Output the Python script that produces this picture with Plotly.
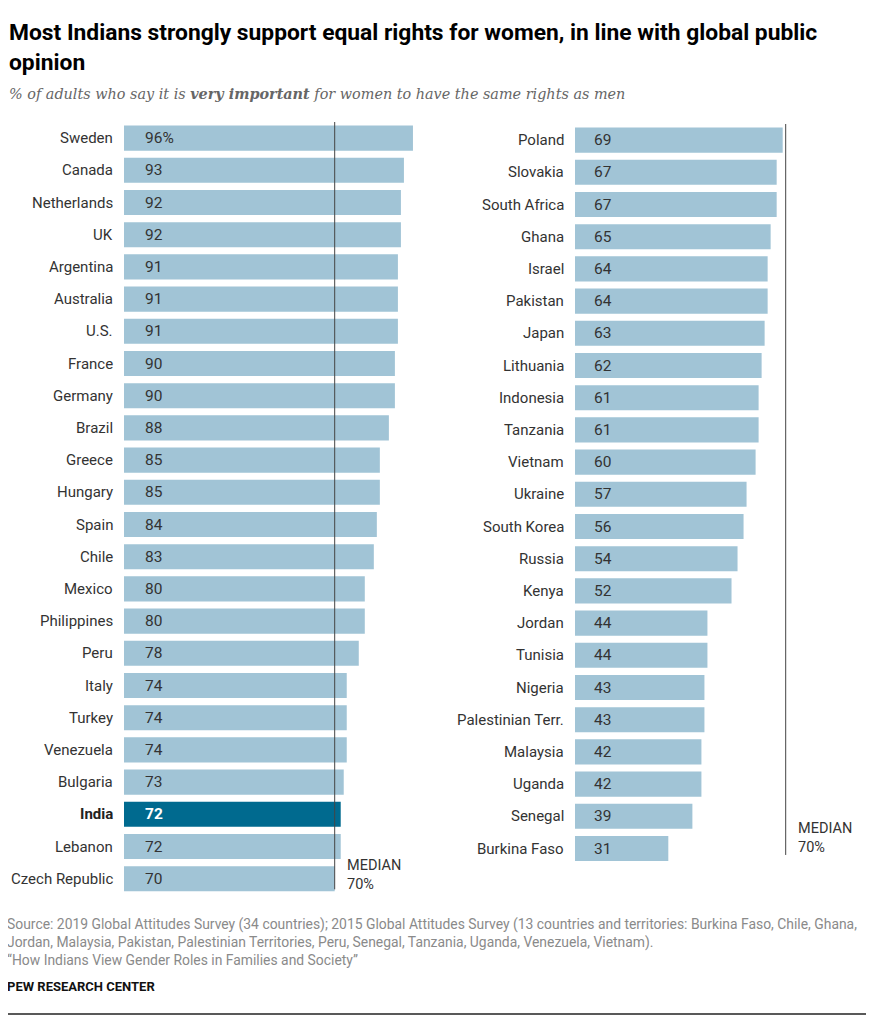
import plotly.graph_objects as go

# data
left_countries = ["Sweden", "Canada", "Netherlands", "UK", "Argentina", "Australia", "U.S.",
                  "France", "Germany", "Brazil", "Greece", "Hungary", "Spain", "Chile", "Mexico",
                  "Philippines", "Peru", "Italy", "Turkey", "Venezuela", "Bulgaria", "India",
                  "Lebanon", "Czech Republic"]
left_values = [96, 93, 92, 92, 91, 91, 91, 90, 90, 88, 85, 85, 84, 83, 80, 80, 78, 74, 74, 74,
               73, 72, 72, 70]

right_countries = ["Poland", "Slovakia", "South Africa", "Ghana", "Israel", "Pakistan", "Japan",
                   "Lithuania", "Indonesia", "Tanzania", "Vietnam", "Ukraine", "South Korea",
                   "Russia", "Kenya", "Jordan", "Tunisia", "Nigeria", "Palestinian Terr.",
                   "Malaysia", "Uganda", "Senegal", "Burkina Faso"]
right_values = [69, 67, 67, 65, 64, 64, 63, 62, 61, 61, 60, 57, 56, 54, 52, 44, 44, 43, 43, 42,
                42, 39, 31]

median = 70
highlight = "India"

OFF = 8  # page body margin
W, H = 887 - OFF, 1023 - OFF
LIGHT = "#a1c4d6"
DARK = "#006a8f"
FONT = "Roboto"
PX = 3.01  # pixels per percentage point

def px_x(p):
    return (p - OFF) / W

def px_y(p):
    return 1 - (p - OFF) / H

fig = go.Figure()

# pixel layout of the two panels (reference coordinates)
pitch = 32.2
nrows = len(left_countries)
lx0, lx1 = 124, 440
rx0, rx1 = 575, 880

# countries, values, axes, x pixels, value-label offset, top pixel, median line end, median label offset
panels = [
    (left_countries, left_values, "x", "y", lx0, lx1, 19, 122, 0.33, 0.5),
    (right_countries, right_values, "x2", "y2", rx0, rx1, 17, 124, 0.2, 0.3),
]

annotations = []
shapes = []
domains = []
for countries, values, xa, ya, x0, x1, lab_off, top_px, line_end, med_off in panels:
    domains.append([px_y(top_px + pitch * nrows), px_y(top_px)])
    idx = list(range(len(countries)))
    colors = [DARK if c == highlight else LIGHT for c in countries]
    fig.add_trace(go.Bar(
        x=values, y=idx, orientation="h", xaxis=xa, yaxis=ya,
        marker=dict(color=colors, line=dict(width=0)), width=0.78,
        hoverinfo="skip", showlegend=False,
    ))
    for i, (c, v) in enumerate(zip(countries, values)):
        bold = c == highlight
        txt = f"{v}%" if i == 0 and xa == "x" else str(v)
        annotations.append(dict(
            x=lab_off / PX, y=i, xref=xa, yref=ya, xanchor="left", yanchor="middle",
            text=f"<b>{txt}</b>" if bold else txt, showarrow=False,
            font=dict(family=FONT, size=15.5, color="white" if bold else "#333333"),
        ))
        annotations.append(dict(
            x=px_x(x0 - 9.5), y=i, xref="paper", yref=ya, xanchor="right", yanchor="middle",
            text=f"<b>{c}</b>" if bold else c, showarrow=False,
            font=dict(family=FONT, size=15, color="#222222" if bold else "#333333"),
        ))
    n = len(countries)
    shapes.append(dict(type="line", xref=xa, yref=ya, x0=median, x1=median,
                       y0=-0.52, y1=n - 1 + line_end, line=dict(color="#444444", width=1)))
    annotations.append(dict(
        x=median + 3.4, y=n - 1 + med_off, xref=xa, yref=ya, xanchor="left", yanchor="bottom",
        text="MEDIAN<br>70%", showarrow=False, align="left",
        font=dict(family=FONT, size=14.5, color="#333333"),
    ))

axis_common = dict(showgrid=False, zeroline=False, showticklabels=False, ticks="",
                   showline=False, fixedrange=True)
fig.update_layout(
    xaxis=dict(domain=[px_x(lx0), px_x(lx1)], range=[0, (lx1 - lx0) / PX], anchor="y", **axis_common),
    yaxis=dict(domain=domains[0], range=[nrows - 0.5, -0.5], anchor="x", **axis_common),
    xaxis2=dict(domain=[px_x(rx0), px_x(rx1)], range=[0, (rx1 - rx0) / PX], anchor="y2", **axis_common),
    yaxis2=dict(domain=domains[1], range=[nrows - 0.5, -0.5], anchor="x2", **axis_common),
)

# title, subtitle, notes
annotations += [
    dict(x=px_x(7), y=px_y(17), xref="paper", yref="paper", xanchor="left", yanchor="top",
         align="left", showarrow=False,
         text="<b>Most Indians strongly support equal rights for women, in line with global public<br>opinion</b>",
         font=dict(family=FONT, size=22.8, color="#000000")),
    dict(x=px_x(7), y=px_y(94), xref="paper", yref="paper", xanchor="left", yanchor="middle",
         align="left", showarrow=False,
         text="<i>% of adults who say it is <b>very important</b> for women to have the same rights as men</i>",
         font=dict(family="DejaVu Serif", size=14.4, color="#666666")),
    dict(x=px_x(5), y=px_y(914), xref="paper", yref="paper", xanchor="left", yanchor="top",
         align="left", showarrow=False,
         text="Source: 2019 Global Attitudes Survey (34 countries); 2015 Global Attitudes Survey (13 countries and territories: Burkina Faso, Chile, Ghana,<br>"
              "Jordan, Malaysia, Pakistan, Palestinian Territories, Peru, Senegal, Tanzania, Uganda, Venezuela, Vietnam).<br>"
              "\u201cHow Indians View Gender Roles in Families and Society\u201d",
         font=dict(family=FONT, size=13.9, color="#8a8a8a")),
    dict(x=px_x(5), y=px_y(986), xref="paper", yref="paper", xanchor="left", yanchor="middle",
         align="left", showarrow=False, text="<b>PEW RESEARCH CENTER</b>",
         font=dict(family=FONT, size=13, color="#111111")),
]

shapes += [
    dict(type="line", xref="paper", yref="paper", x0=px_x(5), x1=1, y0=px_y(5), y1=px_y(5),
         line=dict(color="#222222", width=1.5)),
    dict(type="line", xref="paper", yref="paper", x0=px_x(5), x1=px_x(866), y0=px_y(1014), y1=px_y(1014),
         line=dict(color="#222222", width=1.5)),
]

fig.update_layout(
    width=W, height=H, margin=dict(l=0, r=0, t=0, b=0),
    plot_bgcolor="white", paper_bgcolor="white", bargap=0.2,
    annotations=annotations, shapes=shapes,
)

fig.write_html("out.html")
